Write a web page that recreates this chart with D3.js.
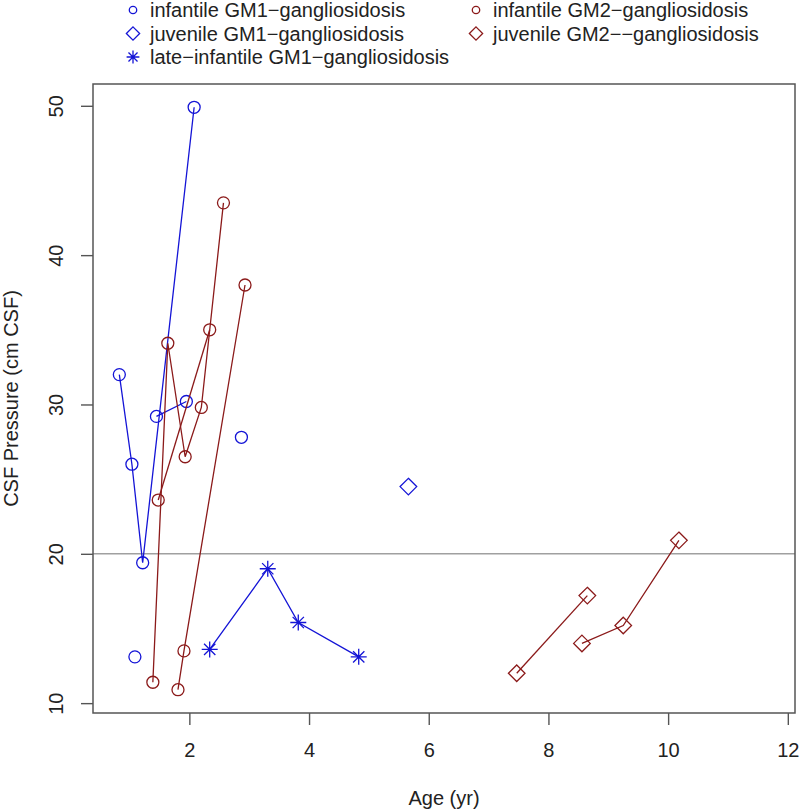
<!DOCTYPE html>
<html lang="en">
<head>
<meta charset="UTF-8" />
<title>CSF Pressure vs Age</title>
<script src="https://d3js.org/d3.v7.min.js"></script>
<style>
  body { margin: 0; background: #fff; }
  svg { display: block; font-family: "Liberation Sans", Arial, sans-serif; }
  .axis text { font-size: 20px; fill: #222; }
  .axis line { stroke: #555; stroke-width: 1.4px; }
  .axis-title { font-size: 20px; fill: #222; }
  .legend text { font-size: 20px; fill: #222; }
</style>
</head>
<body>
<svg width="800" height="810"></svg>
<script>
// values: age (yr), CSF pressure (cm CSF), patient id
const infGM1Age = [0.83, 1.04, 1.22, 2.08, 1.45, 1.95, 1.09, 2.87];
const infGM1Csf = [32.0, 26.0, 19.4, 49.9, 29.2, 30.2, 13.1, 27.8];
const infGM1Pt  = [1, 1, 1, 1, 2, 2, 3, 4];

const juvGM1Age = [5.66];
const juvGM1Csf = [24.5];
const juvGM1Pt  = [1];

const lateGM1Age = [2.34, 3.31, 3.82, 4.83];
const lateGM1Csf = [13.6, 19.0, 15.4, 13.1];
const lateGM1Pt  = [1, 1, 1, 1];

const infGM2Age = [1.39, 1.64, 1.93, 2.20, 2.57, 1.48, 2.34, 1.81, 1.91, 2.93];
const infGM2Csf = [11.4, 34.1, 26.5, 29.8, 43.5, 23.6, 35.0, 10.9, 13.5, 38.0];
const infGM2Pt  = [1, 1, 1, 1, 1, 2, 2, 3, 3, 3];

const juvGM2Age = [7.47, 8.65, 8.56, 9.25, 10.18];
const juvGM2Csf = [12.0, 17.2, 14.0, 15.2, 20.9];
const juvGM2Pt  = [1, 1, 2, 2, 2];

const xTicks = [2, 4, 6, 8, 10, 12];
const yTicks = [10, 20, 30, 40, 50];
const refLine = 20;

const blue = "#1414d6";
const red = "#8b1a1a";

const series = [
  { name: "infantile GM1\u2212gangliosidosis", age: infGM1Age, csf: infGM1Csf, pt: infGM1Pt, col: blue, shape: "circle" },
  { name: "juvenile GM1\u2212gangliosidosis", age: juvGM1Age, csf: juvGM1Csf, pt: juvGM1Pt, col: blue, shape: "diamond" },
  { name: "late\u2212infantile GM1\u2212gangliosidosis", age: lateGM1Age, csf: lateGM1Csf, pt: lateGM1Pt, col: blue, shape: "star" },
  { name: "infantile GM2\u2212gangliosidosis", age: infGM2Age, csf: infGM2Csf, pt: infGM2Pt, col: red, shape: "circle" },
  { name: "juvenile GM2\u2212\u2212gangliosidosis", age: juvGM2Age, csf: juvGM2Csf, pt: juvGM2Pt, col: red, shape: "diamond" }
];

const svg = d3.select("svg");
const box = { left: 93, right: 795, top: 84, bottom: 713 };

const x = d3.scaleLinear().domain([0.39, 12.12]).range([box.left, box.right]);
const y = d3.scaleLinear().domain([9.34, 51.46]).range([box.bottom, box.top]);

// draws one plotting symbol centred at (cx, cy)
function symbol(g, shape, cx, cy, col, s) {
  if (shape === "circle") {
    g.append("circle").attr("cx", cx).attr("cy", cy).attr("r", 6 * s)
      .attr("fill", "none").attr("stroke", col).attr("stroke-width", 1.3);
  } else if (shape === "diamond") {
    const h = 8.3 * s;
    g.append("path")
      .attr("d", `M${cx},${cy - h}L${cx + h},${cy}L${cx},${cy + h}L${cx - h},${cy}Z`)
      .attr("fill", "none").attr("stroke", col).attr("stroke-width", 1.3);
  } else {
    const a = 8 * s, b = a / Math.SQRT2;
    g.append("path")
      .attr("d", `M${cx - a},${cy}H${cx + a}M${cx},${cy - a}V${cy + a}` +
                 `M${cx - b},${cy - b}L${cx + b},${cy + b}M${cx - b},${cy + b}L${cx + b},${cy - b}`)
      .attr("fill", "none").attr("stroke", col).attr("stroke-width", 1.3);
  }
}

// reference line
svg.append("line")
  .attr("x1", box.left).attr("x2", box.right)
  .attr("y1", y(refLine)).attr("y2", y(refLine))
  .attr("stroke", "#a0a0a0").attr("stroke-width", 1.6);

// patient lines + points
const line = d3.line().x(d => x(d.age)).y(d => y(d.csf));
series.forEach(s => {
  const pts = s.age.map((a, i) => ({ age: a, csf: s.csf[i], pt: s.pt[i] }));
  const groups = d3.group(pts, d => d.pt);
  const g = svg.append("g");
  groups.forEach(arr => {
    if (arr.length > 1) {
      g.append("path").attr("d", line(arr))
        .attr("fill", "none").attr("stroke", s.col).attr("stroke-width", 1.3);
    }
  });
  pts.forEach(d => symbol(g, s.shape, x(d.age), y(d.csf), s.col, 1));
});

// axes
const xAxis = svg.append("g").attr("class", "axis")
  .attr("transform", `translate(0,${box.bottom})`)
  .call(d3.axisBottom(x).tickValues(xTicks).tickSize(12).tickPadding(18));
xAxis.select(".domain").remove();

const yAxis = svg.append("g").attr("class", "axis")
  .attr("transform", `translate(${box.left},0)`)
  .call(d3.axisLeft(y).tickValues(yTicks).tickSize(12));
yAxis.select(".domain").remove();
yAxis.selectAll("text")
  .attr("x", null).attr("dy", null)
  .attr("text-anchor", "middle")
  .attr("transform", "translate(-30,0) rotate(-90)");

svg.append("rect")
  .attr("x", box.left).attr("y", box.top)
  .attr("width", box.right - box.left).attr("height", box.bottom - box.top)
  .attr("fill", "none").attr("stroke", "#555").attr("stroke-width", 1.5);

svg.append("text").attr("class", "axis-title")
  .attr("x", (box.left + box.right) / 2).attr("y", 805)
  .attr("text-anchor", "middle").text("Age (yr)");

svg.append("text").attr("class", "axis-title")
  .attr("transform", `translate(18,${(box.top + box.bottom) / 2}) rotate(-90)`)
  .attr("text-anchor", "middle").text("CSF Pressure (cm CSF)");

// legend, two columns filled down
const legend = svg.append("g").attr("class", "legend");
const colX = [133, 476];
const rowY = [10, 33.5, 57];
series.forEach((s, i) => {
  const c = i < 3 ? 0 : 1, r = i < 3 ? i : i - 3;
  const sc = s.shape === "circle" ? 0.62 : 0.8;
  symbol(legend, s.shape, colX[c], rowY[r], s.col, sc);
  legend.append("text")
    .attr("x", colX[c] + 17).attr("y", rowY[r])
    .attr("dy", "0.35em").text(s.name);
});
</script>
</body>
</html>
